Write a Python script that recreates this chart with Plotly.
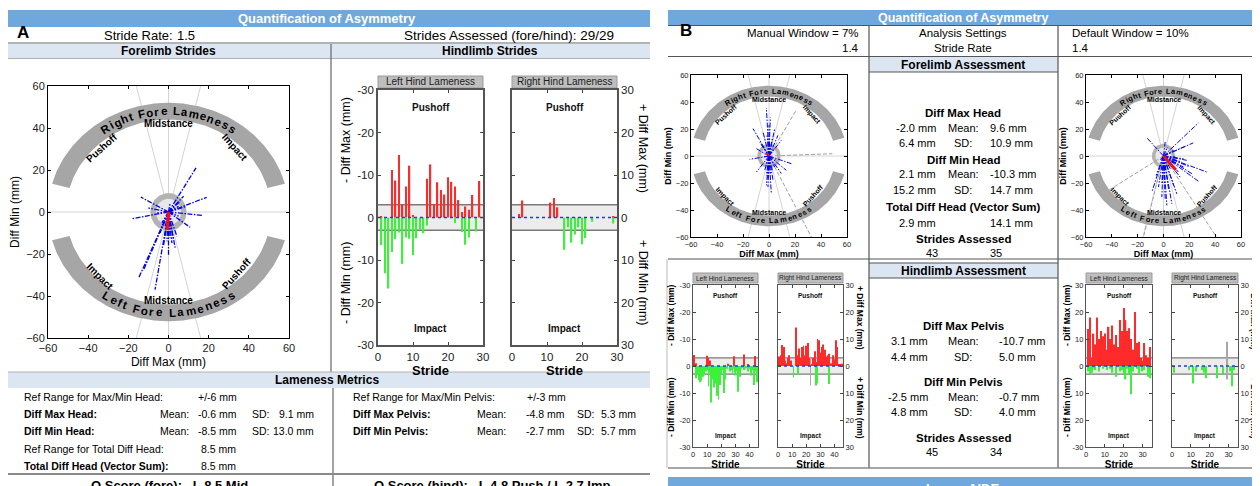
import numpy as np
import plotly.graph_objects as go

W, H = 1260, 486
OX, OY = 8, 8          # page body margin compensation
SANS = "Liberation Sans, Arial, Helvetica, sans-serif"

# ======================= DATA =======================
# ---- Panel A: forelimb stride vectors (Diff Max, Diff Min) in mm ----
A_fore_diff_max = [13.7, -13.8, -18.3, 19.0, 17.0, 10.8, -12.5, -15.0, -6.7, 0.0,
                   3.3, -2.5, -10.0, 5.0, 7.5, 5.0, 2.5, 0.8, -1.7, -4.2,
                   4.2, -0.8, 1.7, 5.8, 0.8, -5.8, 9.0, -3.3, -1.6]
A_fore_diff_min = [21.0, 7.1, -3.2, 7.0, -1.6, -7.3, -27.8, -31.7, -37.0, -20.3,
                   -17.0, -16.3, 1.9, 2.7, 7.5, -2.0, -13.0, -12.4, -11.6, -10.0,
                   -11.6, -14.0, -14.8, 5.0, 4.3, -0.5, 2.7, -5.2, -6.8]
A_fore_mean = [-0.6, -8.5]

# ---- Panel A: hindlimb strides ----
A_strides = list(range(1, 30))
A_LH_pushoff = [0.3, 0, 0, 11.2, 8.7, 14.7, 3.0, 7.3, 12.2, 0.6,
                0, 0, 0, 9.1, 12.5, 3.1, 8.3, 6.5, 5.4, 9.5,
                8.4, 7.3, 4.1, 1.3, 2.6, 1.8, 5.3, 0, 8.6]
A_LH_impact = [6.5, 13.1, 16.7, 8.1, 5.1, 3.5, 10.9, 4.7, 5.0, 8.9,
               4.9, 2.8, 3.7, 1.9, 0, 0, 0, 0, 0, 0,
               0, 1.3, 0, 3.4, 6.4, 4.7, 0, 3.3, 0]
A_RH_pushoff = [0, 0.8, 4.0, 0, 0, 0, 0, 0, 0, 0,
                3.5, 4.6, 2.4, 0, 0, 0, 0, 0, 0, 0,
                0, 0, 0, 0, 0, 0, 0, 0, 0.3]
A_RH_impact = [0, 0, 0, 0, 0, 0, 0, 0, 0, 0,
               0, 0, 0, 0, 7.6, 2.3, 5.9, 4.0, 2.3, 6.3,
               4.8, 0, 1.0, 0, 0, 0, 0, 0, 1.4]

# ---- Panel B: forelimb, manual window (7%) ----
B_man_diff_max = [-2.0, 1.0, -12.3, -4.6, 4.4, 6.9, 9.5, -7.2, -9.7, -14.9,
                  -9.7, -2.0, 1.8, -0.8, 3.1, 9.5, 17.2, 13.3, -3.3, 4.4,
                  0.5, -1.5, 2.6, -4.6, 5.6, -0.8, 1.0, -3.3, 3.6, -2.6,
                  1.8, -5.6, 0.0, -2.0, 2.6]
B_man_diff_min = [35.6, 28.5, 20.3, 17.8, 20.3, 15.3, 11.6, 10.4, 5.4, -2.5,
                  -11.9, -14.4, -28.0, -23.0, -18.0, -13.0, -5.7, -10.6, -10.6, -8.2,
                  9.2, 15.3, 12.9, -0.7, -3.2, -16.8, -13.1, 4.2, 5.4, -6.9,
                  -0.7, 7.9, 22.8, -21.8, -10.6]
B_man_excl_max = [21.0, 48.7, 32.6]
B_man_excl_min = [34.0, 1.7, -60.0]
B_man_mean = [-2.0, 2.1]

# ---- Panel B: forelimb, default window (10%) ----
B_def_diff_max = [27.0, 23.0, 16.8, -13.0, 7.8, 33.6, 27.9, 22.0, 15.5, 12.9,
                  10.3, 6.5, 2.6, 1.3, -1.3, -9.0, -3.9, 3.9, 7.8, 0.5,
                  -5.7, 14.2, 18.0, 10.3, 5.2, 3.1, 1.3, 9.0, 19.4, -1.3,
                  11.6, 15.5, 5.2, -2.6]
B_def_diff_min = [24.5, 9.7, 7.2, 13.6, 4.2, -11.9, -19.3, -13.1, -8.2, -15.6,
                  -28.0, -35.4, -36.6, -31.7, -30.4, -26.7, -23.0, -24.3, -21.8, -16.8,
                  -14.4, -4.5, -3.2, -5.7, -9.4, 6.7, 10.4, -0.7, -7.7, -20.5,
                  -11.9, -2.0, -3.2, -3.2]
B_def_excl_max = [-42.6, 41.0, -15.5]
B_def_excl_min = [-25.5, -60.0, -60.0]
B_def_mean = [9.6, -10.3]

# ---- Panel B: hindlimb, manual window (45 strides) ----
B_man_strides = list(range(1, 46))
B_man_LH_pushoff = [4.1, 1.0, 0, 0, 0, 0, 0, 0, 0, 3.8,
                    3.0, 2.0, 0, 0, 0, 0, 0, 0, 0, 0,
                    0, 0, 0, 0, 0.8, 0, 0, 0, 3.6, 0,
                    0, 0, 0, 0, 0, 4.3, 0, 0, 0.5, 0,
                    0, 0, 0, 3.7, 0]
B_man_LH_impact = [0, 4.5, 3.0, 5.2, 6.0, 5.5, 4.0, 3.5, 2.0, 1.5,
                   7.5, 2.5, 13.5, 5.0, 8.0, 6.5, 11.0, 12.5, 7.0, 3.0,
                   1.5, 10.0, 5.0, 1.0, 0, 2.0, 1.5, 3.0, 1.0, 3.5,
                   2.0, 9.5, 4.0, 1.0, 0.5, 1.5, 1.0, 0.5, 2.0, 1.0,
                   3.5, 1.5, 7.0, 2.0, 6.0]
B_man_RH_pushoff = [3.5, 4.0, 7.8, 7.0, 2.0, 1.0, 3.0, 4.0, 2.0, 0,
                    0, 0, 14.3, 4.0, 6.5, 3.0, 7.0, 7.5, 4.0, 7.5,
                    8.5, 3.0, 0, 0.5, 3.0, 5.5, 1.5, 10.0, 9.5, 5.0,
                    7.0, 8.0, 6.0, 3.5, 4.0, 4.5, 1.0, 1.0, 4.0, 2.5,
                    9.5, 7.0, 0.5, 0.5, 0.8]
B_man_RH_impact = [0, 0, 0, 0, 0, 0, 0, 0, 0, 0,
                   4.3, 0, 0, 3.3, 0, 0, 0, 0, 0, 0,
                   0, 0, 0, 0, 0, 0, 7.2, 6.5, 0, 0,
                   0, 0, 0, 0, 0, 6.7, 0, 0, 0, 0,
                   0, 0, 0, 0, 0]
B_man_RH_excl_stride = [23]
B_man_RH_excl_up = [3.5]
B_man_RH_excl_down = [7.2]

# ---- Panel B: hindlimb, default window (34 strides) ----
B_def_strides = list(range(1, 35))
B_def_LH_pushoff = [13.7, 18.0, 3.0, 12.0, 8.0, 18.0, 10.0, 13.0, 11.0, 12.0,
                    6.0, 14.5, 10.0, 15.0, 8.0, 11.5, 7.0, 17.0, 13.0, 21.5,
                    17.0, 13.0, 14.0, 10.0, 6.0, 20.0, 8.5, 9.0, 3.0, 2.0,
                    8.5, 4.0, 3.0, 7.0]
B_def_LH_impact = [2.0, 3.0, 2.5, 1.0, 1.5, 0, 2.0, 0, 1.0, 0,
                   1.5, 0, 1.0, 2.5, 0, 4.0, 0, 2.0, 1.5, 3.0,
                   5.0, 1.0, 3.0, 10.5, 2.0, 0, 1.0, 3.0, 0, 2.0,
                   1.5, 0, 4.0, 4.5]
B_def_RH_pushoff = [0, 0, 0, 0, 0, 0, 0, 0, 0, 0,
                    0, 0, 0, 0, 0, 0, 0, 0, 0, 0,
                    0, 0, 0, 0, 0, 0, 0, 0, 0, 0,
                    0, 0, 0, 0]
B_def_RH_impact = [2.5, 0, 0, 0, 0, 0, 0, 0, 1.5, 0,
                   6.5, 0, 2.0, 0, 0, 1.5, 2.5, 4.5, 0, 0,
                   0, 0, 0, 4.5, 0, 0, 3.0, 0, 0, 0,
                   2.0, 7.5, 1.5, 0]
B_def_RH_excl_stride = [29]
B_def_RH_excl_up = [9.0]
B_def_RH_excl_down = [5.0]

# ---- tick labels ----
polar_ticks = [-60, -40, -20, 0, 20, 40, 60]
hind_tickvals = [-30, -20, -10, 0, 10, 20, 30]
hind_left_text = ["-30", "-20", "-10", "0", "-10", "-20", "-30"]
hind_right_text = ["30", "20", "10", "0", "10", "20", "30"]
hind_left_text_def = ["-30", "20", "10", "0", "10", "20", "30"]

# ======================= HELPERS =======================
fig = go.Figure()
ann, shp, axes = [], [], {}


def fx(x):
    return (x - OX) / W


def fy(y):
    return 1 - (y - OY) / H


def text(t, x, y, size=12, bold=False, color="black", xanchor="center",
         yanchor="middle", angle=0, family=SANS):
    ann.append(dict(text=(f"<b>{t}</b>" if bold else t), x=fx(x), y=fy(y),
                    xref="paper", yref="paper", showarrow=False, xanchor=xanchor,
                    yanchor=yanchor, textangle=angle,
                    font=dict(size=size, color=color, family=family)))


def rect(x0, y0, x1, y1, fill, line=None, lw=0):
    shp.append(dict(type="rect", xref="paper", yref="paper", x0=fx(x0), x1=fx(x1),
                    y0=fy(y1), y1=fy(y0), fillcolor=fill,
                    line=dict(width=lw, color=line or fill), layer="below"))


def seg(x0, y0, x1, y1, color="#888", w=1):
    shp.append(dict(type="line", xref="paper", yref="paper", x0=fx(x0), x1=fx(x1),
                    y0=fy(y0), y1=fy(y1), line=dict(color=color, width=w),
                    layer="above"))


def names(i):
    s = "" if i == 1 else str(i)
    return "x" + s, "y" + s, "xaxis" + s, "yaxis" + s


CW = {" ": 0.3, "i": 0.3, "l": 0.3, "t": 0.36, "f": 0.36, "r": 0.42, "m": 0.9,
      "R": 0.74, "F": 0.64, "L": 0.62}


def arc_text(s, xr, yr, top, a, b, half, sx, sy, size):
    ws = [CW.get(c, 0.6) + 0.12 for c in s]
    tot = sum(ws)
    if top:
        ts = np.radians(np.linspace(90 + half, 90 - half, 400))
    else:
        ts = np.radians(np.linspace(270 - half, 270 + half, 400))
    px = a * np.cos(ts) * sx
    py = b * np.sin(ts) * sy
    cum = np.concatenate([[0], np.cumsum(np.hypot(np.diff(px), np.diff(py)))])
    pos = 0
    for c, w in zip(s, ws):
        cen = (pos + w / 2) / tot * cum[-1]
        pos += w
        if c == " ":
            continue
        t = np.interp(cen, cum, ts)
        if top:
            dx, dy = a * sx * np.sin(t), -b * sy * np.cos(t)
        else:
            dx, dy = -a * sx * np.sin(t), b * sy * np.cos(t)
        ang = -np.degrees(np.arctan2(dy, dx))
        ann.append(dict(x=a * np.cos(t), y=b * np.sin(t), xref=xr, yref=yr,
                        text=f"<b>{c}</b>", textangle=float(ang), showarrow=False,
                        font=dict(size=size, family=SANS, color="black")))


def polar_panel(i, xd, yd, dmax, dmin, mean, exmax, exmin, tick_fs, title_fs,
                title_bold, arc_fs, lab_fs, lw_blue, lw_red, stand):
    xr, yr, xa, ya = names(i)
    sx = (xd[1] - xd[0]) / 120
    sy = (yd[1] - yd[0]) / 120
    com = dict(xaxis=xr, yaxis=yr, hoverinfo="skip", showlegend=False)
    fig.add_trace(go.Scatter(x=[-60, 60, None, 0, 0, None, -16, 16, None, 16, -16],
                             y=[0, 0, None, -60, 60, None, 60, -60, None, 60, -60],
                             mode="lines", line=dict(color="#D4D4D4", width=1), **com))
    t = np.radians(np.linspace(15, 165, 120))
    bx = np.concatenate([60 * np.cos(t), 51 * np.cos(t[::-1])])
    by = np.concatenate([52 * np.sin(t), 44 * np.sin(t[::-1])])
    for sg in (1, -1):
        fig.add_trace(go.Scatter(x=list(bx) + [bx[0]], y=list(sg * by) + [sg * by[0]],
                                 mode="lines", fill="toself", fillcolor="#A6A6A6",
                                 line=dict(width=0, color="#A6A6A6"), **com))
    c = np.radians(np.linspace(0, 360, 90))
    fig.add_trace(go.Scatter(x=9 * np.cos(c), y=9 * np.sin(c), mode="lines", fill="toself",
                             fillcolor="#B3B3B3", line=dict(width=0, color="#B3B3B3"), **com))
    fig.add_trace(go.Scatter(x=6.3 * np.cos(c), y=6.3 * np.sin(c), mode="lines", fill="toself",
                             fillcolor="#E8E8E8", line=dict(width=0, color="#E8E8E8"), **com))
    ex, ey = [], []
    for a_, b_ in zip(exmax, exmin):
        ex += [0, a_, None]
        ey += [0, b_, None]
    if ex:
        fig.add_trace(go.Scatter(x=ex, y=ey, mode="lines",
                                 line=dict(color="#A0A0A0", width=1, dash="4px,2px"), **com))
    lx, ly = [], []
    for a_, b_ in zip(dmax, dmin):
        lx += [0, a_, None]
        ly += [0, b_, None]
    fig.add_trace(go.Scatter(x=lx, y=ly, mode="lines",
                             line=dict(color="#0000EE", width=lw_blue,
                                       dash="5px,1.5px,1.5px,1.5px"), **com))
    fig.add_trace(go.Scatter(x=[0, mean[0]], y=[0, mean[1]], mode="lines",
                             line=dict(color="#E8141B", width=lw_red), **com))
    tfont = dict(size=title_fs, family=SANS, color="black")

    def ttl(s):
        return f"<b>{s}</b>" if title_bold else s
    base = dict(range=[-60, 60], tickvals=polar_ticks, ticks="inside", ticklen=3,
                tickcolor="black", showline=True, linecolor="black", linewidth=1,
                mirror="ticks", showgrid=False, zeroline=False, fixedrange=True,
                automargin=False, tickfont=dict(size=tick_fs, family=SANS, color="#222"))
    axes[xa] = dict(base, domain=[fx(xd[0]), fx(xd[1])], anchor=yr,
                    title=dict(text=ttl("Diff Max (mm)"), font=tfont, standoff=stand))
    axes[ya] = dict(base, domain=[fy(yd[1]), fy(yd[0])], anchor=xr,
                    title=dict(text=ttl("Diff Min (mm)"), font=tfont, standoff=stand))
    arc_text("Right Fore Lameness", xr, yr, True, 55.5, 48, 37, sx, sy, arc_fs)
    arc_text("Left Fore Lameness", xr, yr, False, 55.5, 48, 36, sx, sy, arc_fs)
    for s, x, y, ang in [("Pushoff", -33, 30.5, -42), ("Midstance", 0, 42.0, 0),
                         ("Impact", 33, 30.5, 48), ("Impact", -34, -30.5, 45),
                         ("Midstance", 0, -42.0, 0), ("Pushoff", 34, -29.5, -48)]:
        ann.append(dict(x=x, y=y, xref=xr, yref=yr, text=f"<b>{s}</b>", textangle=ang,
                        showarrow=False, font=dict(size=lab_fs, family=SANS, color="black")))


def bar_panel(i, xd, yd, strides, push, imp, xmax, xt, bw, side, ticktext,
              tick_fs, stride_fs, lab_fs, box_title, box_y, box_fs, lw_frame,
              ex_s=None, ex_up=None, ex_dn=None):
    xr, yr, xa, ya = names(i)
    com = dict(xaxis=xr, yaxis=yr, hoverinfo="skip", showlegend=False)
    dref = xr + " domain"
    shp.append(dict(type="rect", xref=dref, yref=yr, x0=0, x1=1, y0=-3, y1=3,
                    fillcolor="#ECECEC", line=dict(width=0), layer="below"))
    for yv in (-3, 3):
        shp.append(dict(type="line", xref=dref, yref=yr, x0=0, x1=1, y0=yv, y1=yv,
                        line=dict(color="#7A7A7A", width=1.4), layer="below"))
    fig.add_trace(go.Bar(x=strides, y=push, width=bw,
                         marker=dict(color="#FF2B2B", line=dict(width=0)), **com))
    fig.add_trace(go.Bar(x=strides, y=[-v for v in imp], width=bw,
                         marker=dict(color="#3CF03C", line=dict(width=0)), **com))
    if ex_s:
        fig.add_trace(go.Bar(x=ex_s, y=ex_up, width=bw,
                             marker=dict(color="#A8A8A8", line=dict(width=0)), **com))
        fig.add_trace(go.Bar(x=ex_s, y=[-v for v in ex_dn], width=bw,
                             marker=dict(color="#A8A8A8", line=dict(width=0)), **com))
    fig.add_trace(go.Scatter(x=[0, xmax], y=[0, 0], mode="lines",
                             line=dict(color="#2233FF", width=1.5, dash="dot"), **com))
    for s, yv in (("Pushoff", 26), ("Impact", -26)):
        ann.append(dict(x=xmax / 2, y=yv, xref=xr, yref=yr, text=f"<b>{s}</b>",
                        showarrow=False, font=dict(size=lab_fs, family=SANS, color="#111")))
    axes[xa] = dict(domain=[fx(xd[0]), fx(xd[1])], anchor=yr, range=[0, xmax], tickvals=xt,
                    ticks="inside", ticklen=3, tickcolor="#444", showline=True,
                    linecolor="#555", linewidth=lw_frame, mirror="ticks", showgrid=False,
                    zeroline=False, fixedrange=True, automargin=False,
                    tickfont=dict(size=tick_fs, family=SANS, color="#222"),
                    title=dict(text="<b>Stride</b>",
                               font=dict(size=stride_fs, family=SANS, color="black"),
                               standoff=0))
    axes[ya] = dict(domain=[fy(yd[1]), fy(yd[0])], anchor=xr, range=[-30, 30],
                    tickvals=hind_tickvals, ticktext=ticktext, side=side, ticks="inside",
                    ticklen=3, tickcolor="#444", showline=True, linecolor="#555",
                    linewidth=lw_frame, mirror="ticks", showgrid=False, zeroline=False,
                    fixedrange=True, automargin=False,
                    tickfont=dict(size=tick_fs, family=SANS, color="#222"))
    rect(xd[0], box_y[0], xd[1], box_y[1], "#BEBEBE", "#9A9A9A", 1)
    text(box_title, (xd[0] + xd[1]) / 2, (box_y[0] + box_y[1]) / 2, size=box_fs,
         color="#222")


# ======================= PANEL A =======================
BLUE = "#6FA8DC"
LBLUE = "#DCE6F2"
rect(5, 10, 650, 27, BLUE)
text("Quantification of Asymmetry", 327, 18.5, size=13, bold=True, color="white")
text("A", 23, 32, size=17, bold=True)
text("Stride Rate:", 102, 35.5, size=13, xanchor="left")
text("1.5", 175, 35.5, size=13, xanchor="left")
text("Strides Assessed (fore/hind): 29/29", 402, 35.5, size=13.5, xanchor="left")
seg(5, 43, 650, 43, "#9A9A9A", 1.5)
rect(5, 44, 650, 58, LBLUE)
seg(5, 58.5, 650, 58.5, "#B0B0B0", 1)
text("Forelimb Strides", 168, 51, size=12, bold=True)
text("Hindlimb Strides", 490, 51, size=12, bold=True)
seg(331, 44, 331, 372, "#666", 1.2)

polar_panel(1, (48, 289), (86, 338), A_fore_diff_max, A_fore_diff_min, A_fore_mean,
            [], [], 11, 12, False, 11.5, 10, 1.3, 3.5, 4)
bar_panel(2, (378, 483), (90, 345), A_strides, A_LH_pushoff, A_LH_impact, 30,
          [0, 10, 20, 30], 0.4, "left", hind_left_text, 11.5, 13, 10,
          "Left Hind Lameness", (76, 88), 10, 1.6)
bar_panel(3, (512, 617), (90, 345), A_strides, A_RH_pushoff, A_RH_impact, 30,
          [0, 10, 20, 30], 0.4, "right", hind_right_text, 11.5, 13, 10,
          "Right Hind Lameness", (76, 88), 10, 1.6)
text("- Diff Max (mm)", 346, 140, size=12.5, angle=-90)
text("- Diff Min (mm)", 346, 283, size=12.5, angle=-90)
text("+ Diff Max (mm)", 643, 148, size=12.5, angle=90)
text("+ Diff Min (mm)", 643, 283, size=12.5, angle=90)

rect(5, 372, 650, 388, LBLUE)
seg(5, 372, 650, 372, "#B0B0B0", 1)
text("Lameness Metrics", 327, 380, size=12, bold=True)
seg(333, 388, 333, 486, "#666", 1.2)
FS = 10.5
rows_y = [397, 414, 431, 449, 466]
text("Ref Range for Max/Min Head:", 22, rows_y[0], FS, xanchor="left")
text("+/-6 mm", 196, rows_y[0], FS, xanchor="left")
text("Diff Max Head:", 22, rows_y[1], FS, bold=True, xanchor="left")
text("Mean:", 191, rows_y[1], FS, xanchor="right")
text("-0.6 mm", 196, rows_y[1], FS, xanchor="left")
text("SD:", 250, rows_y[1], FS, xanchor="left")
text("9.1 mm", 316, rows_y[1], FS, xanchor="right")
text("Diff Min Head:", 22, rows_y[2], FS, bold=True, xanchor="left")
text("Mean:", 191, rows_y[2], FS, xanchor="right")
text("-8.5 mm", 196, rows_y[2], FS, xanchor="left")
text("SD:", 250, rows_y[2], FS, xanchor="left")
text("13.0 mm", 316, rows_y[2], FS, xanchor="right")
text("Ref Range for Total Diff Head:", 22, rows_y[3], FS, xanchor="left")
text("8.5 mm", 199, rows_y[3], FS, xanchor="left")
text("Total Diff Head (Vector Sum):", 22, rows_y[4], FS, bold=True, xanchor="left")
text("8.5 mm", 199, rows_y[4], FS, xanchor="left")
text("Ref Range for Max/Min Pelvis:", 351, rows_y[0], FS, xanchor="left")
text("+/-3 mm", 525, rows_y[0], FS, xanchor="left")
text("Diff Max Pelvis:", 351, rows_y[1], FS, bold=True, xanchor="left")
text("Mean:", 508, rows_y[1], FS, xanchor="right")
text("-4.8 mm", 524, rows_y[1], FS, xanchor="left")
text("SD:", 575, rows_y[1], FS, xanchor="left")
text("5.3 mm", 638, rows_y[1], FS, xanchor="right")
text("Diff Min Pelvis:", 351, rows_y[2], FS, bold=True, xanchor="left")
text("Mean:", 508, rows_y[2], FS, xanchor="right")
text("-2.7 mm", 524, rows_y[2], FS, xanchor="left")
text("SD:", 575, rows_y[2], FS, xanchor="left")
text("5.7 mm", 638, rows_y[2], FS, xanchor="right")
seg(5, 474, 650, 474, "#8A8A8A", 2)
text("Q Score (fore):   L 8.5 Mid", 170, 485, 13, bold=True)
text("Q Score (hind):   L 4.8 Push / L 2.7 Imp", 492, 485, 13, bold=True)

# ======================= PANEL B =======================
rect(668, 10, 1270, 25, BLUE)
text("Quantification of Asymmetry", 963, 17.5, size=12.5, bold=True, color="white")
seg(668, 25.5, 1270, 25.5, "#555", 1.2)
text("B", 686, 30, size=17, bold=True)
BF = 11.5
text("Manual Window = 7%", 861, 33, BF, xanchor="right")
text("1.4", 861, 48, BF, xanchor="right")
text("Analysis Settings", 963, 33, BF)
text("Stride Rate", 963, 48, BF)
text("Default Window = 10%", 1070, 33, BF, xanchor="left")
text("1.4", 1070, 48, BF, xanchor="left")
seg(668, 56.5, 1270, 56.5, "#555", 1.2)
seg(869, 25.5, 869, 468, "#555", 1.2)
seg(1058, 25.5, 1058, 468, "#555", 1.2)
rect(869, 57, 1058, 72, LBLUE)
seg(869, 72, 1058, 72, "#555", 1)
text("Forelimb Assessment", 963, 64.5, 12, bold=True)
HB, VF = 11.5, 11
text("Diff Max Head", 963, 113, HB, bold=True)
text("-2.0 mm", 938, 128, VF, xanchor="right")
text("Mean:", 963, 128, VF)
text("9.6 mm", 988, 128, VF, xanchor="left")
text("6.4 mm", 938, 143, VF, xanchor="right")
text("SD:", 963, 143, VF)
text("10.9 mm", 988, 143, VF, xanchor="left")
text("Diff Min Head", 963, 160, HB, bold=True)
text("2.1 mm", 938, 174, VF, xanchor="right")
text("Mean:", 963, 174, VF)
text("-10.3 mm", 988, 174, VF, xanchor="left")
text("15.2 mm", 938, 190, VF, xanchor="right")
text("SD:", 963, 190, VF)
text("14.7 mm", 988, 190, VF, xanchor="left")
text("Total Diff Head (Vector Sum)", 963, 207, HB, bold=True)
text("2.9 mm", 938, 223, VF, xanchor="right")
text("14.1 mm", 988, 223, VF, xanchor="left")
text("Strides Assessed", 963, 239, HB, bold=True)
text("43", 932, 253, VF)
text("35", 988, 253, VF, xanchor="left")

seg(668, 259, 1270, 259, "#555", 1.2)
seg(667, 259, 667, 468, "#BBBBBB", 1)
rect(869, 263, 1058, 278, LBLUE)
seg(869, 263, 1058, 263, "#555", 1)
seg(869, 278, 1058, 278, "#555", 1)
text("Hindlimb Assessment", 963, 270.5, 12, bold=True)
text("Diff Max Pelvis", 963, 326, HB, bold=True)
text("3.1 mm", 930, 341, VF, xanchor="right")
text("Mean:", 963, 341, VF)
text("-10.7 mm", 997, 341, VF, xanchor="left")
text("4.4 mm", 930, 357, VF, xanchor="right")
text("SD:", 963, 357, VF)
text("5.0 mm", 997, 357, VF, xanchor="left")
text("Diff Min Pelvis", 963, 382, HB, bold=True)
text("-2.5 mm", 930, 397, VF, xanchor="right")
text("Mean:", 963, 397, VF)
text("-0.7 mm", 997, 397, VF, xanchor="left")
text("4.8 mm", 930, 412, VF, xanchor="right")
text("SD:", 963, 412, VF)
text("4.0 mm", 997, 412, VF, xanchor="left")
text("Strides Assessed", 963, 438, HB, bold=True)
text("45", 932, 452, VF)
text("34", 988, 452, VF, xanchor="left")
seg(668, 468, 1270, 468, "#888", 1.5)
rect(668, 477, 1270, 495, BLUE)
text("Lunge AIDE", 963, 488, 13, bold=True, color="white")

polar_panel(4, (691, 847), (75, 237), B_man_diff_max, B_man_diff_min, B_man_mean,
            B_man_excl_max, B_man_excl_min, 7.5, 9, True, 7.5, 7, 1.0, 2.5, 2)
polar_panel(5, (1086, 1241), (75, 237), B_def_diff_max, B_def_diff_min, B_def_mean,
            B_def_excl_max, B_def_excl_min, 7.5, 9, True, 7.5, 7, 1.0, 3.0, 2)

bar_panel(6, (693, 758), (285, 447), B_man_strides, B_man_LH_pushoff, B_man_LH_impact, 46,
          [0, 10, 20, 30, 40], 0.6, "left", hind_left_text, 7.5, 10, 6.5,
          "Left Hind Lameness", (273, 283), 6.5, 1.2)
bar_panel(7, (778, 843), (285, 447), B_man_strides, B_man_RH_pushoff, B_man_RH_impact, 46,
          [0, 10, 20, 30, 40], 0.6, "right", hind_right_text, 7.5, 10, 6.5,
          "Right Hind Lameness", (273, 283), 6.5, 1.2,
          B_man_RH_excl_stride, B_man_RH_excl_up, B_man_RH_excl_down)
bar_panel(8, (1086, 1152), (285, 447), B_def_strides, B_def_LH_pushoff, B_def_LH_impact, 35,
          [0, 10, 20, 30], 0.7, "left", hind_left_text_def, 7.5, 10, 6.5,
          "Left Hind Lameness", (273, 283), 6.5, 1.2)
bar_panel(9, (1172, 1238), (285, 447), B_def_strides, B_def_RH_pushoff, B_def_RH_impact, 35,
          [0, 10, 20, 30], 0.7, "right", hind_right_text, 7.5, 10, 6.5,
          "Right Hind Lameness", (273, 283), 6.5, 1.2,
          B_def_RH_excl_stride, B_def_RH_excl_up, B_def_RH_excl_down)
for xx in (671, 1067):
    text("<b>- Diff Max (mm)</b>", xx, 315, 8.5, angle=-90)
    text("<b>- Diff Min (mm)</b>", xx, 407, 8.5, angle=-90)
for xx in (860, 1254):
    text("<b>+ Diff Max (mm)</b>", xx, 318, 8.5, angle=90)
    text("<b>+ Diff Min (mm)</b>", xx, 408, 8.5, angle=90)

fig.update_layout(template="none", width=W, height=H, autosize=False,
                  margin=dict(l=0, r=0, t=0, b=0, pad=0, autoexpand=False),
                  paper_bgcolor="white", plot_bgcolor="rgba(0,0,0,0)", showlegend=False,
                  barmode="overlay", shapes=shp, annotations=ann,
                  font=dict(family=SANS, color="black"), **axes)
fig.write_html("out.html")
